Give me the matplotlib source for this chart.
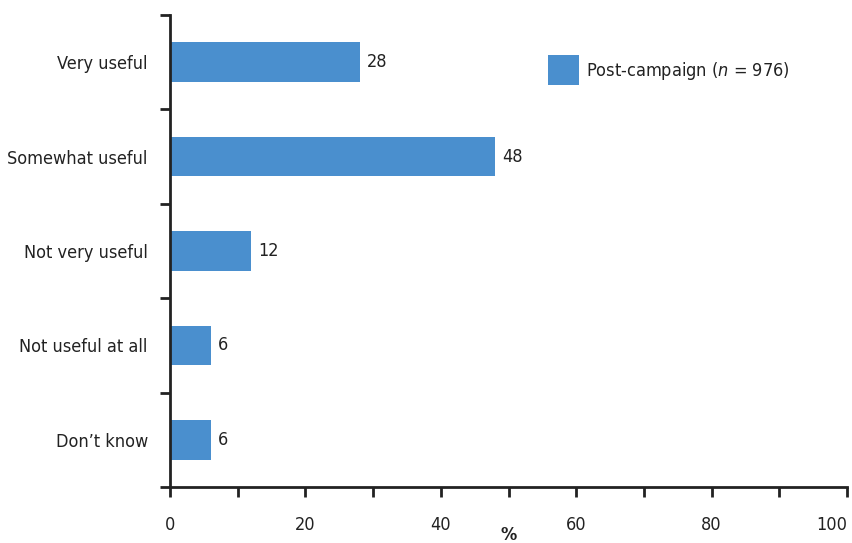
import matplotlib
matplotlib.use("Agg")
import matplotlib.pyplot as plt
from matplotlib.ticker import MultipleLocator, FixedLocator

categories = ["Very useful", "Somewhat useful", "Not very useful", "Not useful at all", "Don\u2019t know"]
values = [28, 48, 12, 6, 6]
series_label = "Post-campaign ($n$ = 976)"
xticks = [0, 20, 40, 60, 80, 100]

plt.rcParams["font.family"] = ["DejaVu Sans"]
plt.rcParams["font.stretch"] = "condensed"
plt.rcParams["mathtext.fontset"] = "custom"
plt.rcParams["mathtext.it"] = "DejaVu Sans:italic"
plt.rcParams["mathtext.rm"] = "DejaVu Sans"

FS = 13
color = "#4a8fce"
txt = "#222222"

fig = plt.figure(figsize=(8.52, 5.43), dpi=100)
ax = fig.add_axes([170/852, 1-487/543, 677/852, 472/543])

n = len(categories)
ypos = list(range(n))
ax.barh(ypos, values, height=0.42, color=color, label=series_label, zorder=2)
for y, v in zip(ypos, values):
    ax.text(v + 1.1, y, f"{v}", va="center", ha="left", fontsize=FS, color=txt)

ax.set_xlim(0, 100)
ax.set_ylim(n - 0.5, -0.5)

ax.set_yticks(ypos)
ax.set_yticklabels(categories, fontsize=FS, color=txt)
ax.yaxis.set_minor_locator(FixedLocator([i - 0.5 for i in range(n + 1)]))
ax.tick_params(axis="y", which="major", length=0, pad=16)
ax.tick_params(axis="y", which="minor", length=7, width=2, direction="out", color=txt)

ax.set_xticks(xticks)
ax.set_xticklabels([str(t) for t in xticks], fontsize=FS, color=txt)
ax.get_xticklabels()[-1].set_horizontalalignment("right")
ax.xaxis.set_minor_locator(MultipleLocator(10))
ax.tick_params(axis="x", which="both", length=7, width=2, direction="out", color=txt, pad=14)

for s in ["top", "right"]:
    ax.spines[s].set_visible(False)
for s in ["left", "bottom"]:
    ax.spines[s].set_linewidth(2)
    ax.spines[s].set_color(txt)

ax.set_xlabel("%", fontsize=FS, fontweight="bold", color=txt, labelpad=-6)

leg = ax.legend(loc="center left", bbox_to_anchor=(378/677, 1 - (70 - 15)/472),
                frameon=False, fontsize=FS, handlelength=1.7, handleheight=2.2,
                handletextpad=0.4, labelcolor=txt, borderaxespad=0, borderpad=0)

fig.savefig("out.png", dpi=100)
